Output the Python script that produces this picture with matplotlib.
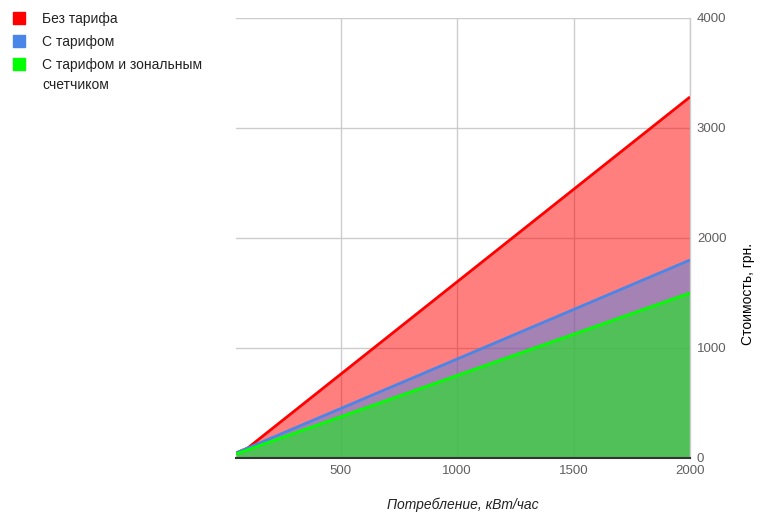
import matplotlib
matplotlib.use("Agg")
import matplotlib.pyplot as plt
from matplotlib.patches import Rectangle

plt.rcParams['font.family'] = ['Liberation Sans', 'DejaVu Sans']

consumption = [50, 100, 500, 1000, 1500, 2000]
no_tariff = [45, 90, 762, 1602, 2442, 3282]
with_tariff = [45, 90, 450, 900, 1350, 1800]
zonal = [37, 75, 375, 750, 1125, 1500]

series_names = ["Без тарифа", "С тарифом", "С тарифом и зональным\nсчетчиком"]
series_values = [no_tariff, with_tariff, zonal]
colors = ["#ff0000", "#4a86e8", "#00ff00"]

x_ticks = [500, 1000, 1500, 2000]
y_ticks = [0, 1000, 2000, 3000, 4000]
x_label = "Потребление, кВт/час"
y_label = "Стоимость, грн."

W, H = 784, 521
fig = plt.figure(figsize=(W / 100, H / 100), dpi=100)
ax = fig.add_axes([236 / W, 1 - 458 / H, (690 - 236) / W, (458 - 18) / H])

for vals, c in zip(series_values, colors):
    ax.fill_between(consumption, 0, vals, color=c, alpha=0.5, linewidth=0, zorder=2)
for vals, c in zip(series_values, colors):
    ax.plot(consumption, vals, color=c, linewidth=2, zorder=3, solid_capstyle='butt')

ax.set_xlim(50, 2000)
ax.set_ylim(0, 4000)
ax.set_xticks(x_ticks)
ax.set_yticks(y_ticks)
ax.yaxis.tick_right()
ax.tick_params(axis='both', length=0, labelsize=9.5, labelcolor='#5f5f5f')
ax.tick_params(axis='x', pad=5)
ax.tick_params(axis='y', pad=5)
ax.grid(True, color='#cccccc', linewidth=1, zorder=1)
for s in ['left', 'top', 'bottom']:
    ax.spines[s].set_visible(False)
ax.spines['right'].set_color('#cccccc')
ax.spines['right'].set_linewidth(1)
ax.axhline(0, color='#333333', linewidth=1.5, zorder=4, clip_on=False)

fig.text(463 / W, 1 - 505 / H, x_label, ha='center', va='center',
         fontsize=10, style='italic', color='#222222')
fig.text(748 / W, 1 - 294 / H, y_label, ha='center', va='center',
         fontsize=10, rotation=90, color='#000000')

# legend
legend_rows = [18, 41, 64]
for name, c, yy in zip(series_names, colors, legend_rows):
    fig.patches.append(Rectangle((13 / W, 1 - (yy + 6) / H), 12 / W, 12 / H,
                                 transform=fig.transFigure, color=c))
    fig.text(42 / W, 1 - (yy - 6) / H, name, ha='left', va='top', fontsize=10,
             color='#222222', linespacing=1.55)

fig.savefig("out.png", dpi=100)
